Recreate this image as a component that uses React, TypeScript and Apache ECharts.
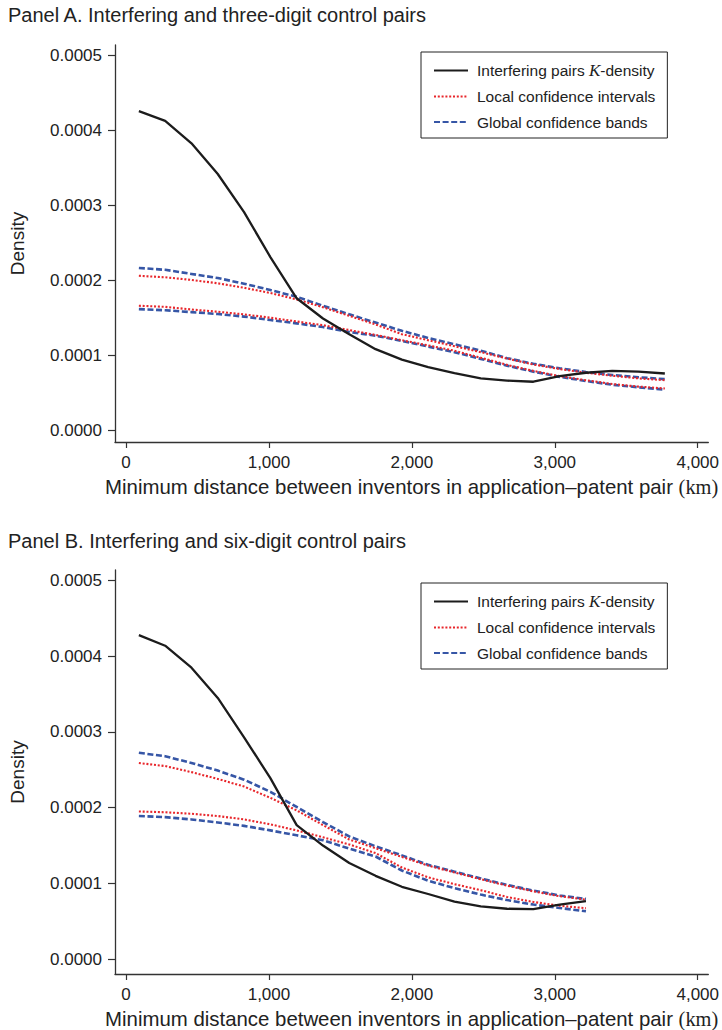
import React, { useEffect, useRef } from "react";
import * as echarts from "echarts";

// Grid of distances (km) at which the densities are evaluated
const distA = [90, 274, 458, 642, 826, 1010, 1194, 1378, 1562, 1746, 1930, 2114, 2298, 2482, 2666, 2850, 3034, 3218, 3402, 3586, 3770];
const distB = [90, 274, 458, 642, 826, 1010, 1194, 1378, 1562, 1746, 1930, 2114, 2298, 2482, 2666, 2850, 3034, 3218];

// Panel A
const kDensA = [4.26e-4, 4.13e-4, 3.83e-4, 3.42e-4, 2.91e-4, 2.31e-4, 1.76e-4, 1.49e-4, 1.28e-4, 1.08e-4, 0.94e-4, 0.84e-4, 0.76e-4, 0.69e-4, 0.66e-4, 0.645e-4, 0.72e-4, 0.765e-4, 0.79e-4, 0.78e-4, 0.755e-4];
const globalUpA = [2.165e-4, 2.14e-4, 2.085e-4, 2.03e-4, 1.955e-4, 1.87e-4, 1.78e-4, 1.66e-4, 1.545e-4, 1.435e-4, 1.325e-4, 1.23e-4, 1.145e-4, 1.06e-4, 0.96e-4, 0.885e-4, 0.825e-4, 0.775e-4, 0.735e-4, 0.705e-4, 0.68e-4];
const localUpA = [2.06e-4, 2.04e-4, 2.005e-4, 1.96e-4, 1.9e-4, 1.83e-4, 1.745e-4, 1.64e-4, 1.525e-4, 1.41e-4, 1.28e-4, 1.2e-4, 1.12e-4, 1.04e-4, 0.955e-4, 0.875e-4, 0.815e-4, 0.765e-4, 0.725e-4, 0.69e-4, 0.665e-4];
const localLoA = [1.66e-4, 1.645e-4, 1.61e-4, 1.58e-4, 1.545e-4, 1.5e-4, 1.45e-4, 1.4e-4, 1.335e-4, 1.27e-4, 1.2e-4, 1.13e-4, 1.06e-4, 0.965e-4, 0.87e-4, 0.79e-4, 0.72e-4, 0.665e-4, 0.615e-4, 0.58e-4, 0.555e-4];
const globalLoA = [1.615e-4, 1.6e-4, 1.575e-4, 1.55e-4, 1.515e-4, 1.47e-4, 1.425e-4, 1.375e-4, 1.31e-4, 1.26e-4, 1.19e-4, 1.115e-4, 1.04e-4, 0.95e-4, 0.86e-4, 0.78e-4, 0.71e-4, 0.655e-4, 0.605e-4, 0.57e-4, 0.54e-4];

// Panel B
const kDensB = [4.28e-4, 4.14e-4, 3.85e-4, 3.45e-4, 2.93e-4, 2.39e-4, 1.77e-4, 1.5e-4, 1.27e-4, 1.1e-4, 0.955e-4, 0.86e-4, 0.76e-4, 0.695e-4, 0.665e-4, 0.66e-4, 0.72e-4, 0.765e-4];
const globalUpB = [2.725e-4, 2.68e-4, 2.59e-4, 2.49e-4, 2.37e-4, 2.21e-4, 2.01e-4, 1.81e-4, 1.62e-4, 1.49e-4, 1.37e-4, 1.245e-4, 1.155e-4, 1.065e-4, 0.98e-4, 0.905e-4, 0.84e-4, 0.795e-4];
const localUpB = [2.59e-4, 2.55e-4, 2.47e-4, 2.38e-4, 2.28e-4, 2.13e-4, 1.965e-4, 1.77e-4, 1.58e-4, 1.465e-4, 1.35e-4, 1.235e-4, 1.145e-4, 1.055e-4, 0.97e-4, 0.895e-4, 0.83e-4, 0.785e-4];
const localLoB = [1.95e-4, 1.94e-4, 1.92e-4, 1.89e-4, 1.845e-4, 1.78e-4, 1.7e-4, 1.61e-4, 1.515e-4, 1.4e-4, 1.21e-4, 1.08e-4, 0.99e-4, 0.91e-4, 0.82e-4, 0.755e-4, 0.705e-4, 0.672e-4];
const globalLoB = [1.89e-4, 1.875e-4, 1.845e-4, 1.805e-4, 1.76e-4, 1.7e-4, 1.635e-4, 1.57e-4, 1.46e-4, 1.355e-4, 1.17e-4, 1.035e-4, 0.937e-4, 0.852e-4, 0.78e-4, 0.72e-4, 0.675e-4, 0.632e-4];

const xTicks = [0, 1000, 2000, 3000, 4000];
const yTicks = [0, 0.0001, 0.0002, 0.0003, 0.0004, 0.0005];

const panelTitles = [
  "Panel A. Interfering and three-digit control pairs",
  "Panel B. Interfering and six-digit control pairs",
];
const seriesNames = ["Interfering pairs K-density", "Local confidence intervals", "Global confidence bands"];
const xTitle = "Minimum distance between inventors in application\u2013patent pair ";
const xUnit = "(km)";
const yTitle = "Density";

const SANS = "'Liberation Sans', Arial, Helvetica, sans-serif";
const SERIF = "'Liberation Serif', 'Times New Roman', serif";
const TXT = "#222";
const AXC = "#333";
const BLACK = "#1c1c1c";
const RED = "#e8262b";
const BLUE = "#3656a6";

function pairs(xs: number[], ys: number[]) {
  return xs.map((x, i) => [x, ys[i]]);
}

export default function App() {
  const ref = useRef<HTMLDivElement>(null);
  useEffect(() => {
    if (!ref.current) return;
    const chart = echarts.init(ref.current, undefined, { renderer: "svg" });

    const grids = [
      { left: 115, top: 45, width: 596, height: 397 },
      { left: 115, top: 570, width: 596, height: 407 },
    ];
    const yRanges = [
      { min: -1.6e-5, max: 5.143e-4 },
      { min: -1.97e-5, max: 5.14e-4 },
    ];

    const xAxes = grids.map((_, i) => ({
      type: "value",
      gridIndex: i,
      min: -77,
      max: 4074,
      axisLine: { show: true, onZero: false, lineStyle: { color: AXC, width: 1.3 } },
      axisTick: { show: true, customValues: xTicks, length: 6, lineStyle: { color: AXC, width: 1.2 } },
      axisLabel: {
        customValues: xTicks,
        formatter: (v: number) => v.toLocaleString("en-US"),
        fontSize: 17,
        fontFamily: SANS,
        color: TXT,
        margin: 12,
      },
      splitLine: { show: false },
      name: xTitle + "{u|" + xUnit + "}",
      nameLocation: "middle",
      nameGap: 35,
      nameTextStyle: {
        fontSize: 20.4,
        fontFamily: SANS,
        color: TXT,
        rich: { u: { fontSize: 20.4, fontFamily: SERIF, color: TXT } },
      },
    }));

    const yAxes = grids.map((_, i) => ({
      type: "value",
      gridIndex: i,
      min: yRanges[i].min,
      max: yRanges[i].max,
      axisLine: { show: true, onZero: false, lineStyle: { color: AXC, width: 1.3 } },
      axisTick: { show: true, customValues: yTicks, length: 7, lineStyle: { color: AXC, width: 1.2 } },
      axisLabel: {
        customValues: yTicks,
        formatter: (v: number) => v.toFixed(4),
        fontSize: 17,
        fontFamily: SANS,
        color: TXT,
        margin: 13,
      },
      splitLine: { show: false },
      name: yTitle,
      nameLocation: "middle",
      nameGap: 88,
      nameTextStyle: { fontSize: 19, fontFamily: SANS, color: TXT },
    }));

    const mk = (name: string, idx: number, xs: number[], ys: number[], kind: string) => {
      const style: any =
        kind === "k"
          ? { color: BLACK, width: 2.3, type: "solid" }
          : kind === "local"
          ? { color: RED, width: 2.1, type: [2, 1.8] }
          : { color: BLUE, width: 2.6, type: [6, 2.6] };
      return {
        type: "line",
        name,
        xAxisIndex: idx,
        yAxisIndex: idx,
        data: pairs(xs, ys),
        symbol: "none",
        showSymbol: false,
        smooth: false,
        lineStyle: style,
        itemStyle: { color: style.color },
        z: kind === "k" ? 4 : kind === "local" ? 3 : 2,
      };
    };

    const series = [
      mk(seriesNames[2], 0, distA, globalUpA, "global"),
      mk(seriesNames[2], 0, distA, globalLoA, "global"),
      mk(seriesNames[1], 0, distA, localUpA, "local"),
      mk(seriesNames[1], 0, distA, localLoA, "local"),
      mk(seriesNames[0], 0, distA, kDensA, "k"),
      mk(seriesNames[2], 1, distB, globalUpB, "global"),
      mk(seriesNames[2], 1, distB, globalLoB, "global"),
      mk(seriesNames[1], 1, distB, localUpB, "local"),
      mk(seriesNames[1], 1, distB, localLoB, "local"),
      mk(seriesNames[0], 1, distB, kDensB, "k"),
    ];

    const legendTops = [52, 583];
    const legends = legendTops.map((t) => ({
      orient: "vertical",
      left: 421,
      top: t,
      data: seriesNames,
      selectedMode: false,
      itemWidth: 34,
      itemHeight: 16,
      itemGap: 9.5,
      padding: [10, 12, 8, 12],
      borderColor: "#222",
      borderWidth: 1,
      backgroundColor: "#fff",
      itemStyle: { opacity: 0 },
      formatter: (n: string) => (n === seriesNames[0] ? "Interfering pairs {k|K}-density" : n),
      textStyle: {
        fontSize: 15.5,
        lineHeight: 16,
        fontFamily: SANS,
        color: TXT,
        padding: [0, 0, 0, 4],
        rich: { k: { fontSize: 17, lineHeight: 16, fontFamily: SERIF, fontStyle: "italic", color: TXT } },
      },
    }));

    const titles = panelTitles.map((t, i) => ({
      text: t,
      left: 8,
      top: i === 0 ? 5 : 531,
      padding: 0,
      textStyle: { fontSize: 20, fontWeight: "normal", fontFamily: SANS, color: TXT },
    }));

    chart.setOption({
      animation: false,
      backgroundColor: "#fff",
      title: titles,
      grid: grids,
      xAxis: xAxes,
      yAxis: yAxes,
      legend: legends,
      series,
    } as any);

    return () => chart.dispose();
  }, []);

  return (
    <div
      ref={ref}
      style={{ position: "absolute", left: 0, top: 0, width: 722, height: 1030, background: "#fff" }}
    />
  );
}
